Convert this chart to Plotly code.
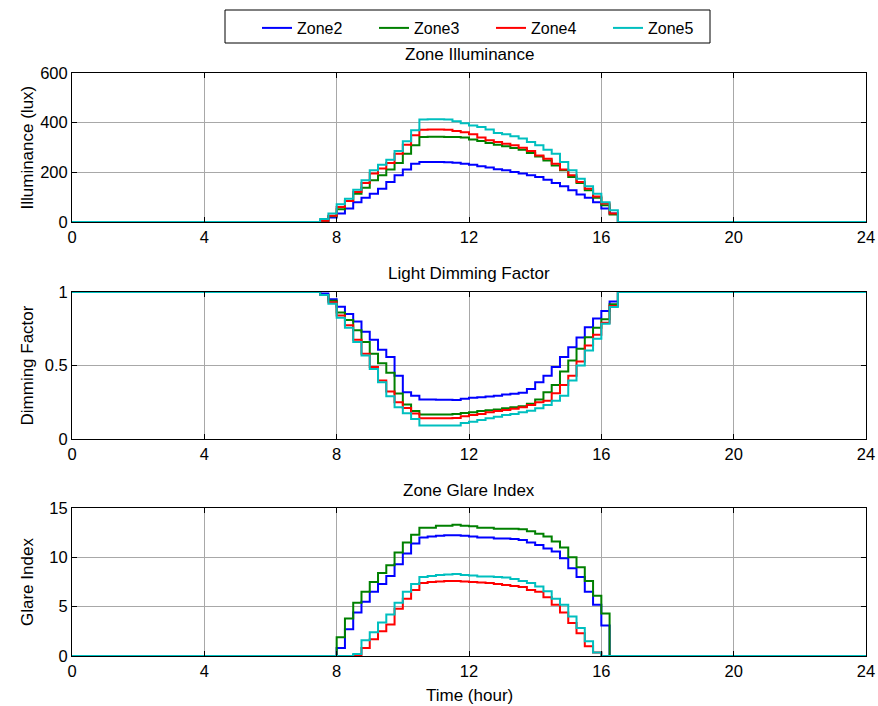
import plotly.graph_objects as go

TIME = [0, 7.5, 7.75, 8, 8.25, 8.5, 8.75, 9, 9.25, 9.5, 9.75, 10, 10.25, 10.5, 10.75,
        11, 11.25, 11.5, 11.75, 12, 12.25, 12.5, 12.75, 13, 13.25, 13.5, 13.75, 14,
        14.25, 14.5, 14.75, 15, 15.25, 15.5, 15.75, 16, 16.25, 16.5, 24]

ZONES = ["Zone2", "Zone3", "Zone4", "Zone5"]
COLORS = ["#0000FF", "#008000", "#FF0000", "#00BFBF"]

ILLUM = {
    "Zone2": [0, 3, 18, 34, 54, 80, 98, 114, 134, 161, 188, 211, 235, 242, 242, 242, 241, 239, 235,
              231, 224, 219, 212, 208, 201, 195, 188, 181, 170, 157, 144, 128, 111, 98, 80, 54, 34, 0, 0],
    "Zone3": [0, 5, 23, 51, 85, 114, 138, 168, 188, 211, 238, 275, 309, 342, 343, 343, 342, 342, 340,
              332, 326, 318, 311, 305, 298, 291, 278, 264, 248, 228, 208, 181, 157, 128, 98, 67, 30, 0, 0],
    "Zone4": [0, 5, 25, 60, 85, 121, 157, 195, 215, 238, 275, 311, 349, 371, 372, 372, 371, 366, 361,
              353, 340, 329, 322, 315, 309, 299, 286, 268, 255, 235, 211, 188, 161, 134, 103, 74, 34, 0, 0],
    "Zone5": [0, 12, 34, 71, 94, 130, 168, 208, 231, 251, 286, 325, 369, 413, 414, 414, 413, 406, 398,
              389, 383, 372, 358, 353, 345, 336, 322, 309, 291, 275, 242, 208, 174, 144, 114, 80, 47, 0, 0],
}

DIMMING = {
    "Zone2": [1, 0.99, 0.95, 0.90, 0.85, 0.80, 0.73, 0.675, 0.607, 0.557, 0.43, 0.318, 0.295, 0.268,
              0.268, 0.267, 0.267, 0.266, 0.273, 0.28, 0.284, 0.289, 0.295, 0.302, 0.307, 0.314, 0.34,
              0.386, 0.43, 0.49, 0.557, 0.625, 0.69, 0.76, 0.82, 0.87, 0.936, 1, 1],
    "Zone3": [1, 0.98, 0.94, 0.86, 0.81, 0.74, 0.66, 0.58, 0.516, 0.45, 0.31, 0.234, 0.19, 0.166,
              0.166, 0.166, 0.167, 0.17, 0.177, 0.182, 0.19, 0.195, 0.2, 0.21, 0.216, 0.223, 0.24,
              0.268, 0.318, 0.368, 0.46, 0.534, 0.614, 0.693, 0.757, 0.814, 0.916, 1, 1],
    "Zone4": [1, 0.98, 0.93, 0.84, 0.773, 0.675, 0.58, 0.49, 0.398, 0.323, 0.25, 0.211, 0.173, 0.141,
              0.141, 0.141, 0.142, 0.143, 0.155, 0.164, 0.17, 0.182, 0.19, 0.198, 0.205, 0.216, 0.232,
              0.25, 0.26, 0.311, 0.368, 0.43, 0.527, 0.636, 0.709, 0.79, 0.905, 1, 1],
    "Zone5": [1, 0.98, 0.92, 0.825, 0.757, 0.66, 0.568, 0.477, 0.386, 0.29, 0.216, 0.175, 0.136, 0.091,
              0.091, 0.091, 0.091, 0.091, 0.109, 0.118, 0.13, 0.141, 0.152, 0.164, 0.17, 0.182, 0.193,
              0.209, 0.232, 0.261, 0.295, 0.398, 0.5, 0.602, 0.682, 0.784, 0.898, 1, 1],
}

GLARE = {
    "Zone2": [0, 0, 0, 0.8, 2.7, 4.4, 5.5, 6.5, 7.3, 8.1, 9.3, 10.4, 11.4, 12.0, 12.1, 12.2, 12.25,
              12.25, 12.2, 12.1, 12.0, 12.0, 11.9, 11.9, 11.85, 11.75, 11.5, 11.25, 10.9, 10.6, 9.9,
              8.9, 8.0, 6.5, 5.2, 3.1, 0, 0, 0],
    "Zone3": [0, 0, 0, 1.9, 3.8, 5.4, 6.5, 7.5, 8.4, 9.2, 10.5, 11.5, 12.3, 13.0, 13.0, 13.2, 13.2,
              13.3, 13.2, 13.15, 13.0, 13.0, 12.9, 12.9, 12.9, 12.85, 12.65, 12.4, 12.1, 11.6, 11.0,
              10.0, 9.0, 7.6, 6.1, 4.3, 0, 0, 0],
    "Zone4": [0, 0, 0, 0, 0, 0.1, 0.8, 1.7, 2.5, 3.2, 4.8, 5.8, 6.7, 7.4, 7.5, 7.55, 7.6, 7.6, 7.55,
              7.5, 7.45, 7.4, 7.3, 7.2, 7.1, 7.0, 6.7, 6.5, 5.95, 5.2, 4.4, 3.35, 2.3, 1.0, 0.35, 0,
              0, 0, 0],
    "Zone5": [0, 0, 0, 0, 0, 0.2, 1.6, 2.4, 3.4, 4.2, 5.4, 6.5, 7.3, 8.0, 8.1, 8.2, 8.25, 8.3, 8.2,
              8.15, 8.05, 8.05, 8.0, 7.95, 7.8, 7.6, 7.4, 7.05, 6.55, 5.8, 5.2, 4.0, 2.85, 1.5, 0.35, 0,
              0, 0, 0],
}

X_TICKS = [0, 4, 8, 12, 16, 20, 24]
PANELS = [
    ("Zone Illuminance", "Illuminance (lux)", ILLUM, [0, 600], [0, 200, 400, 600]),
    ("Light Dimming Factor", "Dimming Factor", DIMMING, [0, 1], [0, 0.5, 1]),
    ("Zone Glare Index", "Glare Index", GLARE, [0, 15], [0, 5, 10, 15]),
]

W, H = 878, 706
L, R = 72, 866
PANEL_PX = [(73, 222), (292, 439), (508, 656)]   # pixel extents (top, bottom)
TITLE_PX = [54, 273, 490]
FONT = "Liberation Sans, Arial, sans-serif"

def py(p):
    return 1 - p / H

def px(p):
    return (p - L) / (R - L)

fig = go.Figure()
annotations = []
for i, (title, ylab, data, yr, yt) in enumerate(PANELS):
    n = i + 1
    xa = "x" if n == 1 else f"x{n}"
    ya = "y" if n == 1 else f"y{n}"
    for z, c in zip(ZONES, COLORS):
        fig.add_trace(go.Scatter(
            x=TIME, y=data[z], mode="lines", name=z,
            line=dict(color=c, width=2, shape="hv"),
            showlegend=(n == 1), xaxis=xa, yaxis=ya,
        ))
    top, bot = PANEL_PX[i]
    axis_common = dict(
        showline=True, linecolor="black", linewidth=1, mirror="ticks",
        ticks="inside", ticklen=5, tickcolor="black", automargin=False,
        showgrid=True, gridcolor="#a8a8a8", gridwidth=1,
        zeroline=False, tickfont=dict(family=FONT, size=16.5, color="black"),
    )
    fig.update_layout(**{
        ("xaxis" if n == 1 else f"xaxis{n}"): dict(
            axis_common, domain=[0, 1], range=[0, 24], tickvals=X_TICKS,
            anchor=ya),
        ("yaxis" if n == 1 else f"yaxis{n}"): dict(
            axis_common, domain=[py(bot), py(top)], range=yr, tickvals=yt,
            anchor=xa),
    })
    annotations.append(dict(
        text=title, x=0.5, y=py(TITLE_PX[i]), xref="paper", yref="paper",
        showarrow=False, font=dict(family=FONT, size=17, color="black"),
        xanchor="center", yanchor="middle"))
    annotations.append(dict(
        text=ylab, x=px(27), y=py((top + bot) / 2), xref="paper", yref="paper",
        showarrow=False, textangle=-90, font=dict(family=FONT, size=17, color="black"),
        xanchor="center", yanchor="middle"))

annotations.append(dict(
    text="Time (hour)", x=0.5, y=py(695), xref="paper", yref="paper",
    showarrow=False, font=dict(family=FONT, size=17, color="black"),
    xanchor="center", yanchor="middle"))

fig.update_layout(
    width=W, height=H,
    margin=dict(l=L, r=W - R, t=0, b=0, autoexpand=False),
    paper_bgcolor="white", plot_bgcolor="white",
    annotations=annotations,
    showlegend=True,
    legend=dict(
        orientation="h", x=px(257), y=py(11), xanchor="left", yanchor="top",
        bgcolor="rgba(0,0,0,0)", borderwidth=0,
        font=dict(family=FONT, size=16, color="black"),
        entrywidth=72, entrywidthmode="pixels",
    ),
    shapes=[dict(type="rect", xref="paper", yref="paper",
                 x0=px(225), x1=px(710), y0=py(43), y1=py(10),
                 line=dict(color="black", width=1), fillcolor="rgba(0,0,0,0)")],
)

fig.write_html("out.html", config={"displayModeBar": False},
               post_script="document.body.style.margin='0px';")
